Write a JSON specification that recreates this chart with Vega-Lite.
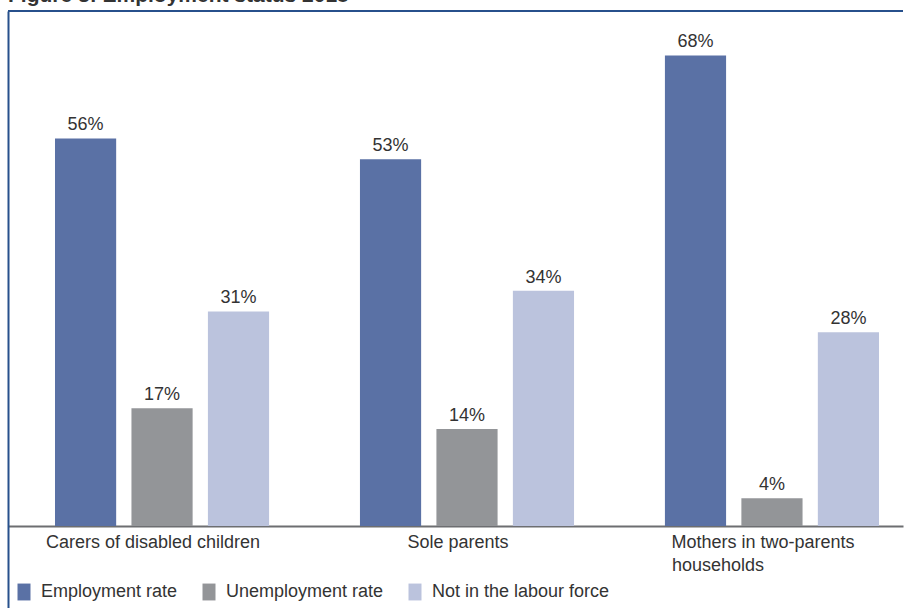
{
  "$schema": "https://vega.github.io/schema/vega-lite/v6.json",
  "width": 895,
  "height": 597,
  "autosize": {"type": "none"},
  "padding": {"left": 8, "top": 11, "right": 14, "bottom": 0},
  "title": {
    "text": "Figure 3: Employment status 2018",
    "anchor": "start",
    "frame": "group",
    "fontSize": 21,
    "fontWeight": "bold",
    "font": "Liberation Sans",
    "color": "#333333",
    "baseline": "alphabetic",
    "offset": 0,
    "dy": 13
  },
  "config": {
    "view": {"stroke": null},
    "font": "Liberation Sans"
  },
  "layer": [
    {
      "data": {
        "values": [
          {"group": "Carers of disabled children", "status": "Employment rate", "pct": 56},
          {"group": "Carers of disabled children", "status": "Unemployment rate", "pct": 17},
          {"group": "Carers of disabled children", "status": "Not in the labour force", "pct": 31},
          {"group": "Sole parents", "status": "Employment rate", "pct": 53},
          {"group": "Sole parents", "status": "Unemployment rate", "pct": 14},
          {"group": "Sole parents", "status": "Not in the labour force", "pct": 34},
          {"group": "Mothers in two-parents households", "status": "Employment rate", "pct": 68},
          {"group": "Mothers in two-parents households", "status": "Unemployment rate", "pct": 4},
          {"group": "Mothers in two-parents households", "status": "Not in the labour force", "pct": 28}
        ]
      },
      "encoding": {
        "x": {
          "field": "group",
          "type": "nominal",
          "sort": ["Carers of disabled children", "Sole parents", "Mothers in two-parents households"],
          "scale": {"paddingInner": 0.298, "paddingOuter": 0.1164, "align": 0.662},
          "axis": {
            "orient": "bottom",
            "offset": -82,
            "title": null,
            "domainColor": "#6d6e71",
            "domainWidth": 2,
            "ticks": false,
            "labelPadding": 7,
            "labelFontSize": 18,
            "labelFont": "Liberation Sans",
            "labelColor": "#333333",
            "labelAngle": 0,
            "labelOffset": -9,
            "labelLineHeight": 23,
            "labelBaseline": "top",
            "labelLimit": 0,
            "labelExpr": "datum.value == 'Mothers in two-parents households' ? ['Mothers in two-parents', 'households\u00a0\u00a0\u00a0\u00a0\u00a0\u00a0\u00a0\u00a0\u00a0\u00a0\u00a0\u00a0\u00a0\u00a0\u00a0\u00a0\u00a0\u00a0\u200b'] : datum.value"
          }
        },
        "xOffset": {
          "field": "status",
          "type": "nominal",
          "sort": ["Employment rate", "Unemployment rate", "Not in the labour force"],
          "scale": {"paddingInner": 0.2, "paddingOuter": 0}
        },
        "y": {
          "field": "pct",
          "type": "quantitative",
          "scale": {"domain": [-11.85, 74.42], "nice": false, "zero": false},
          "axis": {
            "orient": "left",
            "title": null,
            "domain": true,
            "domainColor": "#27508c",
            "domainWidth": 2,
            "ticks": false,
            "labels": false,
            "grid": false
          }
        }
      },
      "layer": [
        {
          "mark": {"type": "bar"},
          "encoding": {
            "color": {
              "field": "status",
              "type": "nominal",
              "sort": ["Employment rate", "Unemployment rate", "Not in the labour force"],
              "scale": {
                "domain": ["Employment rate", "Unemployment rate", "Not in the labour force"],
                "range": ["#5a71a5", "#939598", "#bbc3dd"]
              },
              "legend": {
                "title": null,
                "orient": "bottom-left",
                "direction": "horizontal",
                "offset": 7,
                "symbolType": "M-1,-1.3H1V1.3H-1Z",
                "symbolSize": 169,
                "symbolStrokeWidth": 0,
                "symbolOpacity": 1,
                "labelFontSize": 18,
                "labelFont": "Liberation Sans",
                "labelColor": "#333333",
                "labelOffset": 8,
                "columnPadding": 22,
                "labelLimit": 0
              }
            }
          }
        },
        {
          "transform": [{"calculate": "datum.pct + '%'", "as": "label"}],
          "mark": {
            "type": "text",
            "dy": -8,
            "baseline": "alphabetic",
            "fontSize": 18,
            "font": "Liberation Sans",
            "color": "#333333"
          },
          "encoding": {"text": {"field": "label", "type": "nominal"}}
        }
      ]
    },
    {
      "data": {"values": [{"edge": 74.42}]},
      "mark": {"type": "rule", "color": "#27508c", "strokeWidth": 2},
      "encoding": {"y": {"field": "edge", "type": "quantitative"}}
    }
  ]
}
